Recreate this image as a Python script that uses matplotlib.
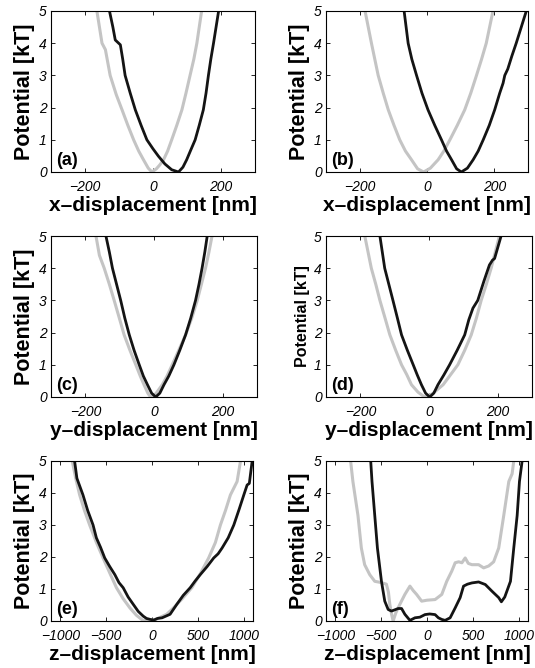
import matplotlib
matplotlib.use("Agg")
import matplotlib.pyplot as plt

plt.rcParams['font.family'] = ['Liberation Sans', 'DejaVu Sans']

# ---------------- data ----------------
# (a) x-displacement
a_gray_x = [-165, -150, -140, -126, -108, -91, -74, -57, -42, -28, -14, -3, 10, 20, 31, 43, 55, 70, 85, 97, 109, 120, 129, 143]
a_gray_y = [5, 4.0, 3.8, 3.0, 2.4, 1.93, 1.45, 1.0, 0.65, 0.38, 0.12, 0.0, 0.1, 0.22, 0.38, 0.65, 1.0, 1.45, 1.93, 2.45, 3.0, 3.5, 4.0, 5]
a_black_x = [-128, -118, -111, -96, -89, -82, -67, -52, -35, -18, 0, 16, 35, 55, 75, 88, 99, 111, 124, 136, 148, 156, 163, 170, 178, 193]
a_black_y = [5, 4.5, 4.1, 3.95, 3.5, 3.0, 2.45, 1.93, 1.45, 1.0, 0.72, 0.49, 0.25, 0.07, 0.0, 0.15, 0.38, 0.68, 1.0, 1.45, 1.93, 2.45, 3.0, 3.5, 4.0, 5]

# (b) x-displacement
b_gray_x = [-184, -165, -155, -145, -130, -115, -98, -81, -64, -46, -28, -10, 10, 33, 50, 68, 90, 112, 130, 147, 162, 176, 196]
b_gray_y = [5, 4.0, 3.5, 3.0, 2.45, 1.93, 1.45, 1.0, 0.65, 0.38, 0.1, 0.0, 0.12, 0.38, 0.65, 1.0, 1.45, 1.93, 2.45, 3.0, 3.5, 4.0, 5]
b_black_x = [-68, -56, -45, -31, -15, 3, 23, 43, 58, 73, 88, 102, 120, 137, 152, 167, 185, 201, 216, 226, 231, 240, 252, 265, 280, 295]
b_black_y = [5, 4.0, 3.5, 3.0, 2.45, 1.93, 1.45, 1.0, 0.65, 0.38, 0.1, 0.0, 0.12, 0.38, 0.65, 1.0, 1.45, 1.93, 2.45, 2.76, 3.0, 3.2, 3.6, 4.0, 4.5, 5]

# (c) y-displacement
c_gray_x = [-169, -159, -145, -130, -116, -101, -87, -70, -53, -40, -29, -18, -10, 5, 24, 38, 53, 72, 92, 110, 126, 138, 150, 160, 169]
c_gray_y = [5, 4.4, 4.0, 3.5, 3.0, 2.45, 1.93, 1.45, 1.0, 0.65, 0.38, 0.12, 0.0, 0.1, 0.38, 0.65, 1.0, 1.45, 1.93, 2.45, 3.0, 3.5, 4.0, 4.5, 5]
c_black_x = [-140, -130, -121, -109, -97, -85, -72, -58, -43, -31, -19, -7, 5, 17, 29, 43, 58, 75, 92, 107, 121, 131, 140, 148, 155]
c_black_y = [5, 4.5, 4.0, 3.5, 3.0, 2.45, 1.93, 1.45, 1.0, 0.65, 0.38, 0.12, 0.0, 0.12, 0.38, 0.65, 1.0, 1.45, 1.93, 2.45, 3.0, 3.5, 4.0, 4.5, 5]

# (d) y-displacement
d_gray_x = [-187, -168, -155, -143, -128, -114, -97, -80, -65, -51, -32, -13, 10, 41, 62, 84, 104, 123, 138, 152, 167, 181, 193, 205]
d_gray_y = [5, 4.0, 3.5, 3.0, 2.45, 1.93, 1.45, 1.0, 0.7, 0.38, 0.15, 0.0, 0.1, 0.38, 0.68, 1.0, 1.45, 1.93, 2.45, 3.0, 3.5, 4.0, 4.5, 5]
d_black_x = [-143, -136, -129, -117, -105, -92, -80, -63, -46, -34, -22, -10, 2, 14, 26, 43, 60, 82, 104, 116, 128, 142, 160, 176, 185, 191, 210]
d_black_y = [5, 4.5, 4.0, 3.5, 3.0, 2.45, 1.93, 1.45, 1.0, 0.68, 0.38, 0.12, 0.0, 0.12, 0.38, 0.68, 1.0, 1.45, 1.93, 2.4, 2.76, 3.0, 3.6, 4.1, 4.25, 4.3, 5]

# (e) z-displacement
e_gray_x = [-869, -830, -788, -735, -679, -605, -533, -460, -387, -315, -241, -170, -100, -40, 40, 160, 234, 330, 434, 530, 617, 690, 745, 800, 854, 927, 964]
e_gray_y = [5, 4.45, 3.94, 3.45, 3.0, 2.45, 1.97, 1.5, 1.04, 0.7, 0.41, 0.18, 0.02, 0.0, 0.05, 0.21, 0.41, 0.7, 1.04, 1.5, 1.97, 2.45, 3.0, 3.45, 3.94, 4.36, 5]
e_black_x = [-843, -818, -785, -752, -700, -642, -606, -560, -515, -460, -405, -360, -314, -260, -204, -150, -95, -60, -20, 20, 60, 110, 197, 270, 340, 416, 470, 526, 600, 672, 720, 763, 830, 891, 950, 1000, 1036, 1060, 1091]
e_black_y = [5, 4.46, 4.2, 3.94, 3.45, 3.0, 2.6, 2.3, 1.97, 1.7, 1.45, 1.2, 1.04, 0.75, 0.52, 0.3, 0.15, 0.08, 0.05, 0.03, 0.08, 0.1, 0.21, 0.52, 0.8, 1.04, 1.25, 1.45, 1.7, 1.97, 2.1, 2.28, 2.6, 3.0, 3.5, 3.94, 4.25, 4.3, 5]

# (f) z-displacement
f_gray_x = [-832, -807, -752, -715, -679, -624, -569, -496, -442, -420, -405, -385, -369, -340, -296, -241, -186, -150, -113, -58, 0, 88, 161, 215, 270, 307, 345, 380, 416, 450, 489, 562, 617, 672, 726, 781, 836, 891, 927, 945]
f_gray_y = [5, 4.36, 3.3, 2.28, 1.76, 1.45, 1.24, 1.2, 1.15, 0.9, 0.52, 0.2, 0.0, 0.25, 0.52, 0.83, 1.09, 0.95, 0.83, 0.62, 0.65, 0.67, 0.83, 1.24, 1.56, 1.82, 1.85, 1.82, 1.97, 1.8, 1.76, 1.76, 1.66, 1.72, 1.85, 2.28, 3.3, 4.36, 4.6, 5]
f_black_x = [-613, -599, -569, -540, -496, -460, -423, -387, -350, -314, -277, -241, -186, -131, -77, -22, 30, 88, 124, 160, 197, 252, 307, 361, 398, 440, 489, 562, 635, 708, 781, 810, 847, 909, 945, 982, 1007, 1036]
f_black_y = [5, 4.36, 3.3, 2.28, 1.24, 0.62, 0.36, 0.31, 0.35, 0.39, 0.39, 0.21, 0.02, 0.1, 0.12, 0.2, 0.22, 0.2, 0.1, 0.05, 0.02, 0.1, 0.41, 0.73, 1.09, 1.15, 1.19, 1.22, 1.14, 0.93, 0.73, 0.6, 0.75, 1.24, 2.28, 3.3, 4.36, 5]

panel_letters = ['(a)', '(b)', '(c)', '(d)', '(e)', '(f)']
xlabels = ['x\u2013displacement [nm]', 'x\u2013displacement [nm]',
           'y\u2013displacement [nm]', 'y\u2013displacement [nm]',
           'z\u2013displacement [nm]', 'z\u2013displacement [nm]']
ylabel_text = 'Potential [kT]'
xy_ticks = [-200, 0, 200]
z_ticks = [-1000, -500, 0, 500, 1000]
y_ticks = [0, 1, 2, 3, 4, 5]

series = [
    (a_gray_x, a_gray_y, a_black_x, a_black_y),
    (b_gray_x, b_gray_y, b_black_x, b_black_y),
    (c_gray_x, c_gray_y, c_black_x, c_black_y),
    (d_gray_x, d_gray_y, d_black_x, d_black_y),
    (e_gray_x, e_gray_y, e_black_x, e_black_y),
    (f_gray_x, f_gray_y, f_black_x, f_black_y),
]

# ---------------- layout ----------------
W, H = 535, 668
fig = plt.figure(figsize=(W / 100, H / 100), dpi=100)

boxes = [  # left, top, width, height in pixels
    (51, 11, 204, 161), (326, 11, 202, 161),
    (51, 236, 206, 161), (326, 236, 206, 161),
    (51, 461, 202, 160), (326, 461, 202, 160),
]

GRAY = '#c4c4c4'
BLACK = '#141414'

for i, (box, (gx, gy, bx, by)) in enumerate(zip(boxes, series)):
    l, t, w, h = box
    ax = fig.add_axes([l / W, 1 - (t + h) / H, w / W, h / H])
    ax.plot(gx, gy, color=GRAY, lw=2.2, solid_joinstyle='round')
    ax.plot(bx, by, color=BLACK, lw=2.0, solid_joinstyle='round')
    if i < 4:
        ax.set_xlim(-300, 300)
        ax.set_xticks(xy_ticks)
    else:
        ax.set_xlim(-1100, 1100)
        ax.set_xticks(z_ticks)
    ax.set_ylim(0, 5)
    ax.set_yticks(y_ticks)
    ax.tick_params(direction='in', top=True, right=True, length=3, width=0.6)
    ax.tick_params(axis='x', pad=6)
    ax.tick_params(axis='y', pad=3)
    for lab in ax.get_xticklabels() + ax.get_yticklabels():
        lab.set_fontstyle('italic')
        lab.set_fontsize(10)
    for s in ax.spines.values():
        s.set_linewidth(0.8)
    ax.set_xlabel(xlabels[i], fontsize=15, fontweight='bold', labelpad=1)
    ax.set_ylabel(ylabel_text, fontsize=11.5 if i == 3 else 15.5,
                  fontweight='bold', labelpad=3)
    ax.text(0.025, 0.02, panel_letters[i], transform=ax.transAxes,
            fontsize=13, fontweight='bold', ha='left', va='bottom')

fig.savefig('out.png', dpi=100)
